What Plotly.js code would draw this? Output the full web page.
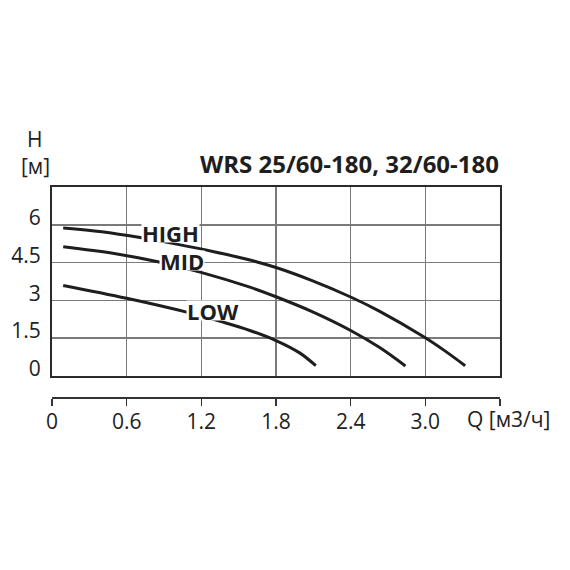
<!DOCTYPE html>
<html>
<head>
<meta charset="utf-8">
<script src="https://cdn.plot.ly/plotly-3.0.1.min.js"></script>
<style>
  html, body { margin: 0; padding: 0; background: #fff; }
  #chart { width: 570px; height: 570px; }
</style>
</head>
<body>
<div id="chart"></div>
<script>
// flow Q [m3/h] and head H [m]
const highQ = [0.09, 0.40, 0.72, 1.01, 1.30, 1.59, 1.80, 2.09, 2.40, 2.63, 2.99, 3.16, 3.32];
const highH = [5.87, 5.72, 5.48, 5.22, 4.93, 4.60, 4.30, 3.78, 3.13, 2.57, 1.54, 0.98, 0.40];

const midQ = [0.09, 0.50, 0.87, 1.19, 1.59, 1.80, 2.09, 2.40, 2.63, 2.84];
const midH = [5.13, 4.86, 4.51, 4.12, 3.52, 3.14, 2.55, 1.80, 1.13, 0.39];

const lowQ = [0.09, 0.60, 1.09, 1.36, 1.59, 1.80, 1.99, 2.12];
const lowH = [3.59, 3.08, 2.52, 2.15, 1.80, 1.40, 0.91, 0.40];

const xTicks = [0, 0.6, 1.2, 1.8, 2.4, 3.0, 3.6];
const xTickText = ['0', '0.6', '1.2', '1.8', '2.4', '3.0', ''];
const yTicks = [0, 1.5, 3, 4.5, 6];
const yTickText = ['0', '1.5', '3', '4.5', '6'];

const curveLabels = [
    // [ text, Q, H ]
    ['HIGH', 0.955, 5.69],
    ['MID', 1.047, 4.60],
    ['LOW', 1.29, 2.59]
];

const ink = '#1e1e1e';
const font = 'Open Sans, Noto Sans, sans-serif';

function curve(q, h, name) {
    return {
        x: q,
        y: h,
        name: name,
        type: 'scatter',
        mode: 'lines',
        line: { color: ink, width: 3, shape: 'spline', smoothing: 1 },
        hoverinfo: 'skip'
    };
}

var data = [
    curve(highQ, highH, 'HIGH'),
    curve(midQ, midH, 'MID'),
    curve(lowQ, lowH, 'LOW'),
    // empty trace so the detached bottom axis gets drawn
    { x: [], y: [], xaxis: 'x2', yaxis: 'y', type: 'scatter', showlegend: false }
];

var annotations = curveLabels.map(function(l) {
    return {
        text: l[0], x: l[1], y: l[2], xref: 'x', yref: 'y',
        xanchor: 'center', yanchor: 'middle',
        showarrow: false, bgcolor: '#ffffff', borderpad: 0, height: 19,
        font: { family: font, size: 22, color: ink, weight: 700 }
    };
});

function note(text, x, y, size, weight, xanchor) {
    return {
        text: text, xref: 'paper', yref: 'paper', x: x, y: y,
        xanchor: xanchor || 'center', yanchor: 'middle', showarrow: false,
        font: { family: font, size: size, color: weight ? ink : '#222', weight: weight || 400 }
    };
}
annotations.push(
    note('WRS 25/60-180, 32/60-180', 1.003, 1.11, 24, 700, 'right'),
    note('H', -0.038, 1.228, 21),
    note('[м]', -0.036, 1.10, 21),
    note('Q [м3/ч]', 1.02, -0.104, 21)
);

var layout = {
    width: 570,
    height: 570,
    margin: { l: 52, r: 70, t: 187, b: 173 },
    paper_bgcolor: '#ffffff',
    plot_bgcolor: '#ffffff',
    showlegend: false,
    font: { family: font, size: 21, color: '#222' },
    xaxis: {
        range: [0, 3.6],
        tickvals: xTicks.slice(1, -1),
        showticklabels: false,
        ticks: '',
        showgrid: true,
        gridcolor: '#7a7a7a',
        gridwidth: 1.5,
        zeroline: false,
        showline: true,
        mirror: true,
        linecolor: '#2a2a2a',
        linewidth: 2,
        fixedrange: true
    },
    xaxis2: {
        range: [0, 3.6],
        overlaying: 'x',
        anchor: 'free',
        position: 0,
        side: 'bottom',
        tickvals: xTicks,
        ticktext: xTickText,
        ticks: 'outside',
        ticklen: 7,
        tickwidth: 1.5,
        tickcolor: '#333',
        ticklabelstandoff: -2,
        showgrid: false,
        zeroline: false,
        showline: true,
        linecolor: '#333',
        linewidth: 1.5,
        tickfont: { family: font, size: 21, color: '#222' },
        fixedrange: true
    },
    yaxis: {
        domain: [0.101, 1],
        range: [0, 7.5],
        tickvals: yTicks,
        ticktext: yTickText,
        ticks: '',
        ticklabelstandoff: 5,
        ticklabelshift: -7,
        showgrid: true,
        gridcolor: '#7a7a7a',
        gridwidth: 1.5,
        zeroline: false,
        showline: true,
        mirror: true,
        linecolor: '#2a2a2a',
        linewidth: 2,
        tickfont: { family: font, size: 21, color: '#222' },
        fixedrange: true
    },
    annotations: annotations
};

Plotly.newPlot('chart', data, layout, { displayModeBar: false, staticPlot: true });
</script>
</body>
</html>
